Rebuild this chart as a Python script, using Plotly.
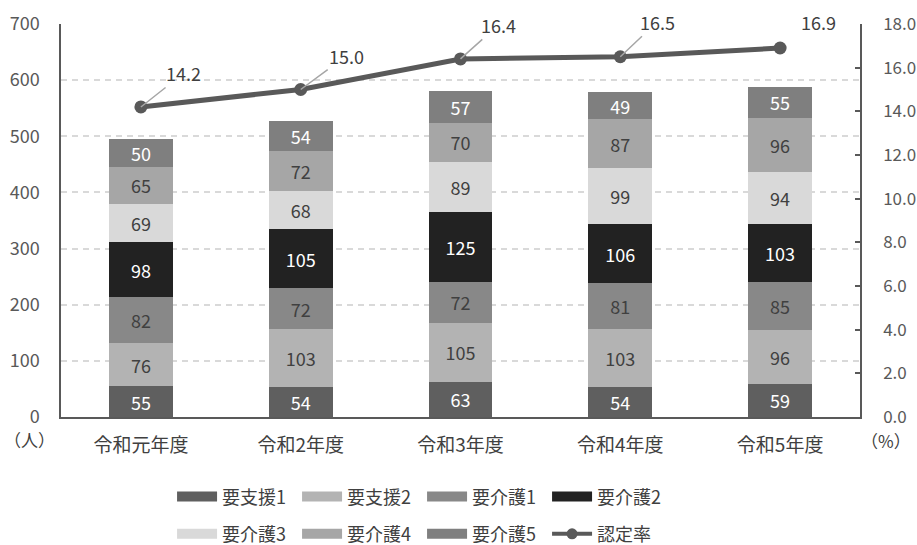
import plotly.graph_objects as go

categories = ['令和元年度', '令和2年度', '令和3年度', '令和4年度', '令和5年度']
series_names = ['要支援1', '要支援2', '要介護1', '要介護2', '要介護3', '要介護4', '要介護5']
shien1 = [55, 54, 63, 54, 59]
shien2 = [76, 103, 105, 103, 96]
kaigo1 = [82, 72, 72, 81, 85]
kaigo2 = [98, 105, 125, 106, 103]
kaigo3 = [69, 68, 89, 99, 94]
kaigo4 = [65, 72, 70, 87, 96]
kaigo5 = [50, 54, 57, 49, 55]
rate = [14.2, 15.0, 16.4, 16.5, 16.9]
rate_name = '認定率'

series_values = [shien1, shien2, kaigo1, kaigo2, kaigo3, kaigo4, kaigo5]
colors = ['#5f5f5f', '#b3b3b3', '#888888', '#222222', '#d9d9d9', '#a6a6a6', '#7f7f7f']
text_colors = ['#ffffff', '#404040', '#404040', '#ffffff', '#404040', '#404040', '#ffffff']

FONT = 'Noto Sans CJK JP'
AX = '#595959'
TXT = '#404040'

fig = go.Figure()

for name, vals, c, tc in zip(series_names, series_values, colors, text_colors):
    fig.add_trace(go.Bar(
        x=categories, y=vals, name=name, marker=dict(color=c, line=dict(width=0)),
        width=0.4, text=vals, textposition='inside', insidetextanchor='middle',
        textangle=0, constraintext='none',
        textfont=dict(color=tc, size=18, family=FONT), showlegend=False,
        hoverinfo='skip'))

fig.add_trace(go.Scatter(
    x=categories, y=rate, name=rate_name, yaxis='y2', mode='lines+markers',
    line=dict(color=AX, width=5), marker=dict(size=13, color=AX),
    showlegend=False))

# legend proxies
legend_groups = ['legend'] * 4 + ['legend2'] * 3
for name, c, lg in zip(series_names, colors, legend_groups):
    fig.add_trace(go.Scatter(x=[None], y=[None], name=name, mode='lines',
                             line=dict(color=c, width=10), legend=lg))
fig.add_trace(go.Scatter(x=[None], y=[None], name=rate_name, mode='lines+markers',
                         line=dict(color=AX, width=4), marker=dict(size=11, color=AX),
                         legend='legend2', yaxis='y2'))

offsets = [(43, -34, True), (46, -34, True), (38, -34, True), (37, -35, True), (38, -26, False)]
for cat, r, (ax, ay, arrow) in zip(categories, rate, offsets):
    if arrow:
        fig.add_annotation(x=cat, y=r, yref='y2', text=f'{r:.1f}', showarrow=True,
                           ax=ax, ay=ay, arrowhead=0, arrowwidth=1.5, arrowcolor='#a6a6a6',
                           standoff=0, font=dict(size=18, color=TXT, family=FONT))
    else:
        fig.add_annotation(x=cat, y=r, yref='y2', text=f'{r:.1f}', showarrow=False,
                           xshift=ax, yshift=-ay, font=dict(size=18, color=TXT, family=FONT))

fig.add_annotation(x=-0.04, y=-0.057, xref='paper', yref='paper', text='（人）',
                   xanchor='center', yanchor='middle',
                   showarrow=False, font=dict(size=17, color=TXT, family=FONT))
fig.add_annotation(x=1.032, y=-0.06, xref='paper', yref='paper', text='（%）',
                   xanchor='center', yanchor='middle',
                   showarrow=False, font=dict(size=17, color=TXT, family=FONT))

leg_common = dict(orientation='h', xanchor='left', yanchor='top', traceorder='normal',
                  font=dict(size=18, color=TXT, family=FONT), itemwidth=40,
                  entrywidth=70, entrywidthmode='pixels', bgcolor='rgba(0,0,0,0)',
                  tracegroupgap=0, itemclick=False, itemdoubleclick=False)

fig.update_layout(
    width=917, height=545,
    margin=dict(l=61, r=57, t=24, b=128, autoexpand=False),
    paper_bgcolor='white', plot_bgcolor='white',
    barmode='stack', bargap=0.6,
    font=dict(family=FONT, color=TXT, size=18),
    xaxis=dict(showline=True, linecolor=AX, linewidth=1.5, ticks='',
               tickfont=dict(size=19, color=TXT), ticklabelstandoff=10,
               showgrid=False, automargin=False),
    yaxis=dict(range=[0, 700], dtick=100, showline=True, linecolor=AX, linewidth=1.5,
               ticks='', showgrid=True, gridcolor='#d9d9d9', gridwidth=1.5,
               griddash='6px,5px', zeroline=False, automargin=False,
               tickfont=dict(size=18, color=AX), ticklabelstandoff=16),
    yaxis2=dict(range=[0, 18], dtick=2, tickformat='.1f', overlaying='y', side='right',
                showline=True, linecolor=AX, linewidth=1.5, ticks='inside', ticklen=5,
                tickcolor=AX, tickwidth=1.5, showgrid=False, zeroline=False,
                automargin=False,
                tickfont=dict(size=17, color=AX), ticklabelstandoff=18),
    legend=dict(x=0.139, y=-0.156, **leg_common),
    legend2=dict(x=0.139, y=-0.251, **leg_common),
    showlegend=True,
)

fig.write_html('out.html', config={'displayModeBar': False},
               post_script="document.body.style.margin='0';document.body.style.overflow='hidden';")
